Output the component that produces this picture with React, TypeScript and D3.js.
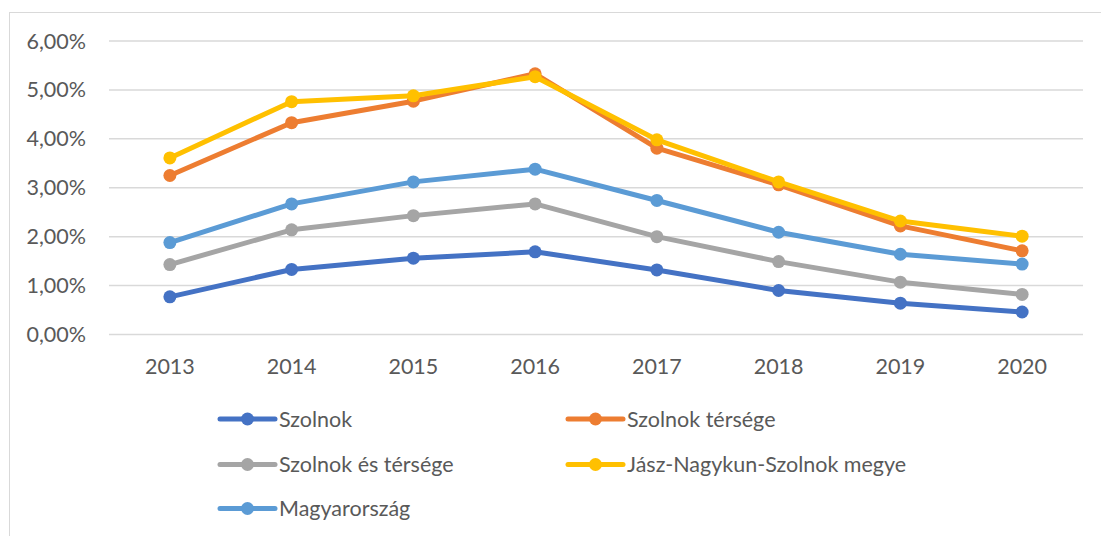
import React from "react";
import * as d3 from "d3";

const years = ["2013", "2014", "2015", "2016", "2017", "2018", "2019", "2020"];
const yTicks = [0, 1, 2, 3, 4, 5, 6];

const szolnok = [0.77, 1.33, 1.56, 1.69, 1.32, 0.9, 0.64, 0.46];
const szolnokTersege = [3.25, 4.33, 4.77, 5.33, 3.81, 3.06, 2.22, 1.71];
const szolnokEsTersege = [1.43, 2.14, 2.43, 2.67, 2.0, 1.49, 1.07, 0.82];
const jnsz = [3.61, 4.76, 4.88, 5.27, 3.98, 3.12, 2.32, 2.01];
const magyarorszag = [1.88, 2.67, 3.12, 3.38, 2.74, 2.09, 1.64, 1.44];

const seriesNames = [
  "Szolnok",
  "Szolnok térsége",
  "Szolnok és térsége",
  "Jász-Nagykun-Szolnok megye",
  "Magyarország",
];
const seriesValues = [szolnok, szolnokTersege, szolnokEsTersege, jnsz, magyarorszag];
const seriesColors = ["#4472C4", "#ED7D31", "#A5A5A5", "#FFC000", "#5B9BD5"];

const W = 1101;
const H = 536;
const FONT = "Lato, 'Open Sans', sans-serif";
const FS = 21.5;

export default function App() {
  const x = d3.scaleBand<string>().domain(years).range([109, 1083]);
  const y = d3.scaleLinear().domain([0, 6]).range([334.5, 41]);
  const cx = (yr: string) => (x(yr) as number) + x.bandwidth() / 2;
  const line = d3
    .line<number>()
    .x((_, i) => cx(years[i]))
    .y((d) => y(d));
  const fmt = (v: number) => v.toFixed(2).replace(".", ",") + "%";

  const legendPos = [
    { x: 220, y: 419 },
    { x: 568, y: 419 },
    { x: 220, y: 464.5 },
    { x: 568, y: 464.5 },
    { x: 220, y: 508.5 },
  ];

  return (
    <svg
      width={W}
      height={H}
      style={{ position: "absolute", left: 0, top: 0, background: "#fff" }}
    >
      <rect x={9.5} y={12.5} width={1100} height={540} fill="#fff" stroke="#D9D9D9" strokeWidth={1} />
      {yTicks.map((t) => (
        <g key={t}>
          <line x1={109} x2={1083} y1={y(t)} y2={y(t)} stroke="#D9D9D9" strokeWidth={1.5} />
          <text
            x={86}
            y={y(t)}
            dy="0.35em"
            textAnchor="end"
            fontFamily={FONT}
            fontSize={FS}
            fill="#595959"
          >
            {fmt(t)}
          </text>
        </g>
      ))}
      {years.map((yr) => (
        <text
          key={yr}
          x={cx(yr)}
          y={366}
          dy="0.35em"
          textAnchor="middle"
          fontFamily={FONT}
          fontSize={FS}
          fill="#595959"
        >
          {yr}
        </text>
      ))}
      {seriesValues.map((vals, si) => (
        <g key={si}>
          <path
            d={line(vals) as string}
            fill="none"
            stroke={seriesColors[si]}
            strokeWidth={5}
            strokeLinejoin="round"
            strokeLinecap="round"
          />
          {vals.map((v, i) => (
            <circle key={i} cx={cx(years[i])} cy={y(v)} r={6.5} fill={seriesColors[si]} />
          ))}
        </g>
      ))}
      {seriesNames.map((name, si) => {
        const p = legendPos[si];
        return (
          <g key={name}>
            <line
              x1={p.x}
              x2={p.x + 55}
              y1={p.y}
              y2={p.y}
              stroke={seriesColors[si]}
              strokeWidth={5}
              strokeLinecap="round"
            />
            <circle cx={p.x + 27.5} cy={p.y} r={6.5} fill={seriesColors[si]} />
            <text
              x={p.x + 59}
              y={p.y}
              dy="0.35em"
              fontFamily={FONT}
              fontSize={FS}
              fill="#595959"
            >
              {name}
            </text>
          </g>
        );
      })}
    </svg>
  );
}
